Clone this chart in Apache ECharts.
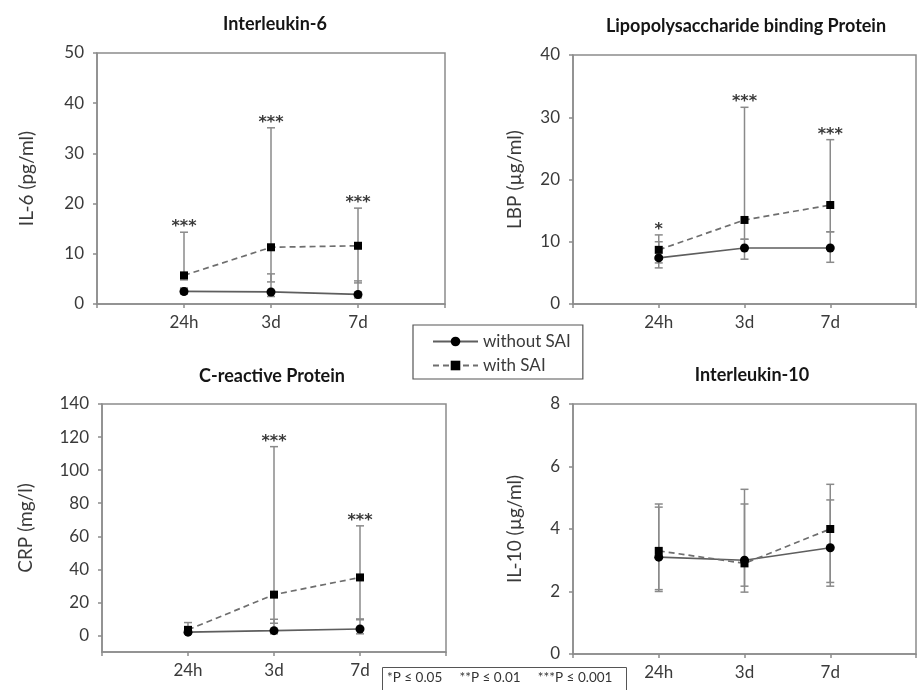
<!DOCTYPE html>
<html>
<head>
<meta charset="utf-8">
<script src="https://cdn.jsdelivr.net/npm/echarts@6/dist/echarts.min.js"></script>
<style>html,body{margin:0;padding:0;background:#fff}#c{width:919px;height:690px}</style>
</head>
<body>
<div id="c"></div>
<script>
// ---- data ----
const categories = ['', '24h', '3d', '7d', ''];
const timepoints = [1, 2, 3];

const il6Without = [2.5, 2.4, 1.9];
const il6WithoutLow = [2.0, 1.5, 1.2];
const il6WithoutHigh = [3.2, 6.0, 4.6];
const il6With = [5.7, 11.3, 11.6];
const il6WithLow = [4.8, 4.4, 4.2];
const il6WithHigh = [14.3, 35.1, 19.1];
const il6Sig = ['***', '***', '***'];

const lbpWithout = [7.4, 9.0, 9.0];
const lbpWithoutLow = [5.8, 7.2, 6.7];
const lbpWithoutHigh = [10.0, 10.4, 11.6];
const lbpWith = [8.7, 13.5, 15.9];
const lbpWithLow = [6.6, 10.4, 11.6];
const lbpWithHigh = [11.1, 31.6, 26.4];
const lbpSig = ['*', '***', '***'];

const crpWithout = [2.0, 2.9, 3.9];
const crpWithoutLow = [1.0, 1.0, 1.0];
const crpWithoutHigh = [4.5, 9.8, 10.0];
const crpWith = [3.4, 24.7, 35.1];
const crpWithLow = [1.5, 7.4, 9.5];
const crpWithHigh = [7.8, 114.2, 66.3];
const crpSig = ['', '***', '***'];

const il10Without = [3.1, 3.0, 3.4];
const il10WithoutLow = [2.0, 2.17, 2.29];
const il10WithoutHigh = [4.7, 4.8, 4.93];
const il10With = [3.3, 2.9, 4.0];
const il10WithLow = [2.06, 1.98, 2.17];
const il10WithHigh = [4.8, 5.27, 5.43];
const il10Sig = ['', '', ''];

const crpTicks = [0, 20, 40, 60, 80, 100, 120, 140];

const panelTitles = ['Interleukin-6', 'Lipopolysaccharide binding Protein', 'C-reactive Protein', 'Interleukin-10'];
const yNames = ['IL-6 (pg/ml)', 'LBP (µg/ml)', 'CRP (mg/l)', 'IL-10 (µg/ml)'];
const footnote = '*P ≤ 0.05     **P ≤ 0.01     ***P ≤ 0.001';

// ---- styles ----
const FONT = 'Lato';
const AX = '#8c8c8c';
const TXT = '#3a3a3a';
const ERR = '#8a8a8a';

const chart = echarts.init(document.getElementById('c'), null, {renderer: 'canvas'});

const grids = [
  {left: 97, right: 474, top: 53, bottom: 386},
  {left: 573, right: 1, top: 55, bottom: 386},
  {left: 102, right: 473, top: 404, bottom: 38},
  {left: 573, right: 1, top: 404, bottom: 36}
];
const yCfg = [
  {min: 0, max: 50, interval: 10, gap: 61},
  {min: 0, max: 40, interval: 10, gap: 49},
  {min: -10, max: 140, custom: crpTicks, gap: 67},
  {min: 0, max: 8, interval: 2, gap: 49}
];
const titlePos = [[270, 10], [741, 12], [267, 362], [747, 361]];

const panels = [
  {w: il6Without, wl: il6WithoutLow, wh: il6WithoutHigh, s: il6With, sl: il6WithLow, sh: il6WithHigh, sig: il6Sig},
  {w: lbpWithout, wl: lbpWithoutLow, wh: lbpWithoutHigh, s: lbpWith, sl: lbpWithLow, sh: lbpWithHigh, sig: lbpSig},
  {w: crpWithout, wl: crpWithoutLow, wh: crpWithoutHigh, s: crpWith, sl: crpWithLow, sh: crpWithHigh, sig: crpSig},
  {w: il10Without, wl: il10WithoutLow, wh: il10WithoutHigh, s: il10With, sl: il10WithLow, sh: il10WithHigh, sig: il10Sig}
];

function errRender(params, api) {
  const x = api.value(0);
  const lo = api.coord([x, api.value(1)]);
  const hi = api.coord([x, api.value(2)]);
  const w = 4;
  const st = {stroke: ERR, lineWidth: 1.5};
  return {type: 'group', children: [
    {type: 'line', shape: {x1: lo[0], y1: lo[1], x2: hi[0], y2: hi[1]}, style: st},
    {type: 'line', shape: {x1: lo[0] - w, y1: lo[1], x2: lo[0] + w, y2: lo[1]}, style: st},
    {type: 'line', shape: {x1: hi[0] - w, y1: hi[1], x2: hi[0] + w, y2: hi[1]}, style: st}
  ]};
}

function sigRender(sig) {
  return function (params, api) {
    const p = api.coord([api.value(0), api.value(1)]);
    return {type: 'text', x: p[0], y: p[1] + 3, style: {
      text: sig[params.dataIndex], fill: '#3a3a3a', font: 'bold 16px "DejaVu Sans"',
      align: 'center', verticalAlign: 'bottom'
    }};
  };
}

const pair = (xs, a) => xs.map((x, i) => [x, a[i]]);
const triple = (xs, a, b) => xs.map((x, i) => [x, a[i], b[i]]);

const xAxis = [], yAxis = [], series = [], titles = [];
panels.forEach((p, k) => {
  xAxis.push({
    gridIndex: k, type: 'category', data: categories, boundaryGap: false,
    axisLine: {onZero: false, lineStyle: {color: AX, width: 1.5}},
    axisTick: {show: true, length: 4, inside: false, lineStyle: {color: AX, width: 1.5}},
    axisLabel: {color: TXT, fontSize: 17, fontFamily: FONT, margin: 10, interval: 0},
    splitLine: {show: false}
  });
  const yc = yCfg[k];
  const ya = {
    gridIndex: k, type: 'value', min: yc.min, max: yc.max,
    name: yNames[k], nameLocation: 'middle', nameGap: yc.gap, nameRotate: 90,
    nameTextStyle: {color: TXT, fontSize: 19, fontFamily: FONT},
    axisLine: {show: true, lineStyle: {color: AX, width: 1.5}},
    axisTick: {show: true, length: 4, lineStyle: {color: AX, width: 1.5}},
    axisLabel: {color: TXT, fontSize: 17, fontFamily: FONT, margin: 13},
    splitLine: {show: false}
  };
  if (yc.custom) {
    ya.axisLabel.customValues = yc.custom;
    ya.axisTick.customValues = yc.custom;
  } else {
    ya.interval = yc.interval;
  }
  yAxis.push(ya);

  series.push({
    type: 'custom', xAxisIndex: k, yAxisIndex: k, renderItem: errRender, z: 1,
    encode: {x: 0, y: [1, 2]}, data: triple(timepoints, p.wl, p.wh), silent: true
  });
  series.push({
    type: 'custom', xAxisIndex: k, yAxisIndex: k, renderItem: errRender, z: 1,
    encode: {x: 0, y: [1, 2]}, data: triple(timepoints, p.sl, p.sh), silent: true
  });
  series.push({
    name: 'without SAI', type: 'line', xAxisIndex: k, yAxisIndex: k, z: 3,
    data: pair(timepoints, p.w), symbol: 'circle', symbolSize: 9,
    lineStyle: {color: '#5e5e5e', width: 1.7, type: 'solid'},
    itemStyle: {color: '#000'}
  });
  series.push({
    name: 'with SAI', type: 'line', xAxisIndex: k, yAxisIndex: k, z: 3,
    data: pair(timepoints, p.s), symbol: 'rect', symbolSize: 8,
    lineStyle: {color: '#6e6e6e', width: 1.7, type: [6, 4]},
    itemStyle: {color: '#000'}
  });
  series.push({
    type: 'custom', xAxisIndex: k, yAxisIndex: k, renderItem: sigRender(p.sig), z: 4,
    encode: {x: 0, y: 1}, data: pair(timepoints, p.sh), silent: true
  });

  titles.push({
    text: panelTitles[k], left: titlePos[k][0], top: titlePos[k][1], textAlign: 'center',
    textStyle: {fontFamily: FONT, fontWeight: 'bold', fontSize: 18, color: '#151515'}
  });
});

titles.push({
  text: footnote, left: 382, top: 667,
  borderColor: '#555', borderWidth: 1, padding: [4, 14, 6, 5],
  textStyle: {fontFamily: FONT, fontWeight: 'normal', fontSize: 13.5, color: '#333'}
});

const option = {
  animation: false,
  backgroundColor: '#fff',
  title: titles,
  grid: grids.map(g => Object.assign({show: true, borderColor: AX, borderWidth: 1.5, backgroundColor: 'transparent'}, g)),
  xAxis: xAxis,
  yAxis: yAxis,
  legend: {
    data: ['without SAI', 'with SAI'], orient: 'vertical', left: 413, top: 325,
    itemWidth: 45, itemHeight: 12, itemGap: 7,
    padding: [8, 12, 5, 19], borderColor: '#555', borderWidth: 1.2,
    textStyle: {fontFamily: FONT, fontSize: 17, color: TXT}
  },
  series: series
};
chart.setOption(option);
</script>
</body>
</html>
